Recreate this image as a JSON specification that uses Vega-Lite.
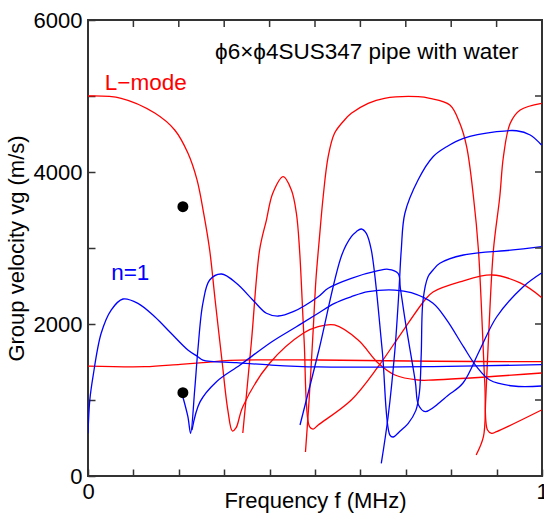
{
  "$schema": "https://vega.github.io/schema/vega-lite/v6.json",
  "width": 454,
  "height": 456,
  "autosize": {"type": "none"},
  "padding": {"left": 88, "top": 20, "right": 2, "bottom": 39},
  "background": "white",
  "config": {"view": {"stroke": "#333", "strokeWidth": 2}, "font": "Liberation Sans"},
  "datasets": {
    "curves": [
      {"s": "R1", "m": "L", "i": 1, "f": 0.0, "v": 5000},
      {"s": "R1", "m": "L", "i": 2, "f": 0.073, "v": 4970},
      {"s": "R1", "m": "L", "i": 3, "f": 0.147, "v": 4776},
      {"s": "R1", "m": "L", "i": 4, "f": 0.191, "v": 4553},
      {"s": "R1", "m": "L", "i": 5, "f": 0.22, "v": 4250},
      {"s": "R1", "m": "L", "i": 6, "f": 0.24, "v": 3900},
      {"s": "R1", "m": "L", "i": 7, "f": 0.255, "v": 3450},
      {"s": "R1", "m": "L", "i": 8, "f": 0.268, "v": 2974},
      {"s": "R1", "m": "L", "i": 9, "f": 0.28, "v": 2316},
      {"s": "R1", "m": "L", "i": 10, "f": 0.295, "v": 1526},
      {"s": "R1", "m": "L", "i": 11, "f": 0.308, "v": 868},
      {"s": "R1", "m": "L", "i": 12, "f": 0.318, "v": 592},
      {"s": "R1", "m": "L", "i": 13, "f": 0.326, "v": 632},
      {"s": "R1", "m": "L", "i": 14, "f": 0.341, "v": 912},
      {"s": "R1", "m": "L", "i": 15, "f": 0.4, "v": 1483},
      {"s": "R1", "m": "L", "i": 16, "f": 0.474, "v": 1878},
      {"s": "R1", "m": "L", "i": 17, "f": 0.507, "v": 1965},
      {"s": "R1", "m": "L", "i": 18, "f": 0.543, "v": 1987},
      {"s": "R1", "m": "L", "i": 19, "f": 0.595, "v": 1789},
      {"s": "R1", "m": "L", "i": 20, "f": 0.639, "v": 1487},
      {"s": "R1", "m": "L", "i": 21, "f": 0.676, "v": 1329},
      {"s": "R1", "m": "L", "i": 22, "f": 0.727, "v": 1263},
      {"s": "R1", "m": "L", "i": 23, "f": 0.76, "v": 1263},
      {"s": "R1", "m": "L", "i": 24, "f": 0.999, "v": 1355},

      {"s": "R2", "m": "L", "i": 1, "f": 0.341, "v": 566},
      {"s": "R2", "m": "L", "i": 2, "f": 0.36, "v": 1770},
      {"s": "R2", "m": "L", "i": 3, "f": 0.378, "v": 2974},
      {"s": "R2", "m": "L", "i": 4, "f": 0.393, "v": 3368},
      {"s": "R2", "m": "L", "i": 5, "f": 0.407, "v": 3720},
      {"s": "R2", "m": "L", "i": 6, "f": 0.43, "v": 3938},
      {"s": "R2", "m": "L", "i": 7, "f": 0.448, "v": 3763},
      {"s": "R2", "m": "L", "i": 8, "f": 0.459, "v": 3457},
      {"s": "R2", "m": "L", "i": 9, "f": 0.466, "v": 2974},
      {"s": "R2", "m": "L", "i": 10, "f": 0.476, "v": 1789},
      {"s": "R2", "m": "L", "i": 11, "f": 0.488, "v": 649},
      {"s": "R2", "m": "L", "i": 12, "f": 0.496, "v": 618},
      {"s": "R2", "m": "L", "i": 13, "f": 0.507, "v": 671},
      {"s": "R2", "m": "L", "i": 14, "f": 0.58, "v": 1000},
      {"s": "R2", "m": "L", "i": 15, "f": 0.639, "v": 1438},
      {"s": "R2", "m": "L", "i": 16, "f": 0.69, "v": 1877},
      {"s": "R2", "m": "L", "i": 17, "f": 0.742, "v": 2316},
      {"s": "R2", "m": "L", "i": 18, "f": 0.76, "v": 2421},
      {"s": "R2", "m": "L", "i": 19, "f": 0.819, "v": 2553},
      {"s": "R2", "m": "L", "i": 20, "f": 0.89, "v": 2645},
      {"s": "R2", "m": "L", "i": 21, "f": 0.952, "v": 2540},
      {"s": "R2", "m": "L", "i": 22, "f": 0.999, "v": 2350},

      {"s": "R3", "m": "L", "i": 1, "f": 0.479, "v": 316},
      {"s": "R3", "m": "L", "i": 2, "f": 0.487, "v": 1000},
      {"s": "R3", "m": "L", "i": 3, "f": 0.496, "v": 1921},
      {"s": "R3", "m": "L", "i": 4, "f": 0.502, "v": 2579},
      {"s": "R3", "m": "L", "i": 5, "f": 0.51, "v": 3150},
      {"s": "R3", "m": "L", "i": 6, "f": 0.518, "v": 3675},
      {"s": "R3", "m": "L", "i": 7, "f": 0.529, "v": 4201},
      {"s": "R3", "m": "L", "i": 8, "f": 0.543, "v": 4509},
      {"s": "R3", "m": "L", "i": 9, "f": 0.565, "v": 4684},
      {"s": "R3", "m": "L", "i": 10, "f": 0.58, "v": 4772},
      {"s": "R3", "m": "L", "i": 11, "f": 0.617, "v": 4904},
      {"s": "R3", "m": "L", "i": 12, "f": 0.653, "v": 4970},
      {"s": "R3", "m": "L", "i": 13, "f": 0.727, "v": 4991},
      {"s": "R3", "m": "L", "i": 14, "f": 0.753, "v": 4970},
      {"s": "R3", "m": "L", "i": 15, "f": 0.797, "v": 4882},
      {"s": "R3", "m": "L", "i": 16, "f": 0.819, "v": 4641},
      {"s": "R3", "m": "L", "i": 17, "f": 0.834, "v": 4333},
      {"s": "R3", "m": "L", "i": 18, "f": 0.849, "v": 3675},
      {"s": "R3", "m": "L", "i": 19, "f": 0.86, "v": 2974},
      {"s": "R3", "m": "L", "i": 20, "f": 0.874, "v": 1220},
      {"s": "R3", "m": "L", "i": 21, "f": 0.88, "v": 605},
      {"s": "R3", "m": "L", "i": 22, "f": 0.889, "v": 562},
      {"s": "R3", "m": "L", "i": 23, "f": 0.9, "v": 583},
      {"s": "R3", "m": "L", "i": 24, "f": 0.999, "v": 868},

      {"s": "R4", "m": "L", "i": 1, "f": 0.855, "v": 276},
      {"s": "R4", "m": "L", "i": 2, "f": 0.871, "v": 517},
      {"s": "R4", "m": "L", "i": 3, "f": 0.876, "v": 1000},
      {"s": "R4", "m": "L", "i": 4, "f": 0.883, "v": 1921},
      {"s": "R4", "m": "L", "i": 5, "f": 0.893, "v": 2974},
      {"s": "R4", "m": "L", "i": 6, "f": 0.907, "v": 3675},
      {"s": "R4", "m": "L", "i": 7, "f": 0.915, "v": 4201},
      {"s": "R4", "m": "L", "i": 8, "f": 0.93, "v": 4641},
      {"s": "R4", "m": "L", "i": 9, "f": 0.952, "v": 4816},
      {"s": "R4", "m": "L", "i": 10, "f": 0.999, "v": 4904},

      {"s": "R5", "m": "L", "i": 1, "f": 0.0, "v": 1447},
      {"s": "R5", "m": "L", "i": 2, "f": 0.125, "v": 1438},
      {"s": "R5", "m": "L", "i": 3, "f": 0.203, "v": 1470},
      {"s": "R5", "m": "L", "i": 4, "f": 0.253, "v": 1491},
      {"s": "R5", "m": "L", "i": 5, "f": 0.313, "v": 1522},
      {"s": "R5", "m": "L", "i": 6, "f": 0.507, "v": 1526},
      {"s": "R5", "m": "L", "i": 7, "f": 0.76, "v": 1510},
      {"s": "R5", "m": "L", "i": 8, "f": 0.999, "v": 1504},

      {"s": "B1", "m": "F", "i": 1, "f": 0.0, "v": 562},
      {"s": "B1", "m": "F", "i": 2, "f": 0.004, "v": 1000},
      {"s": "B1", "m": "F", "i": 3, "f": 0.011, "v": 1307},
      {"s": "B1", "m": "F", "i": 4, "f": 0.029, "v": 1878},
      {"s": "B1", "m": "F", "i": 5, "f": 0.051, "v": 2184},
      {"s": "B1", "m": "F", "i": 6, "f": 0.077, "v": 2329},
      {"s": "B1", "m": "F", "i": 7, "f": 0.11, "v": 2272},
      {"s": "B1", "m": "F", "i": 8, "f": 0.147, "v": 2096},
      {"s": "B1", "m": "F", "i": 9, "f": 0.183, "v": 1878},
      {"s": "B1", "m": "F", "i": 10, "f": 0.22, "v": 1658},
      {"s": "B1", "m": "F", "i": 11, "f": 0.242, "v": 1570},
      {"s": "B1", "m": "F", "i": 12, "f": 0.253, "v": 1526},
      {"s": "B1", "m": "F", "i": 13, "f": 0.327, "v": 1491},
      {"s": "B1", "m": "F", "i": 14, "f": 0.4, "v": 1461},
      {"s": "B1", "m": "F", "i": 15, "f": 0.507, "v": 1435},
      {"s": "B1", "m": "F", "i": 16, "f": 0.76, "v": 1440},
      {"s": "B1", "m": "F", "i": 17, "f": 0.999, "v": 1465},

      {"s": "B2", "m": "F", "i": 1, "f": 0.209, "v": 1039},
      {"s": "B2", "m": "F", "i": 2, "f": 0.22, "v": 780},
      {"s": "B2", "m": "F", "i": 3, "f": 0.226, "v": 562},
      {"s": "B2", "m": "F", "i": 4, "f": 0.235, "v": 1132},
      {"s": "B2", "m": "F", "i": 5, "f": 0.242, "v": 1658},
      {"s": "B2", "m": "F", "i": 6, "f": 0.253, "v": 2272},
      {"s": "B2", "m": "F", "i": 7, "f": 0.268, "v": 2579},
      {"s": "B2", "m": "F", "i": 8, "f": 0.294, "v": 2658},
      {"s": "B2", "m": "F", "i": 9, "f": 0.327, "v": 2536},
      {"s": "B2", "m": "F", "i": 10, "f": 0.363, "v": 2316},
      {"s": "B2", "m": "F", "i": 11, "f": 0.393, "v": 2141},
      {"s": "B2", "m": "F", "i": 12, "f": 0.419, "v": 2105},
      {"s": "B2", "m": "F", "i": 13, "f": 0.452, "v": 2162},
      {"s": "B2", "m": "F", "i": 14, "f": 0.507, "v": 2359},
      {"s": "B2", "m": "F", "i": 15, "f": 0.529, "v": 2470},
      {"s": "B2", "m": "F", "i": 16, "f": 0.58, "v": 2601},
      {"s": "B2", "m": "F", "i": 17, "f": 0.639, "v": 2701},
      {"s": "B2", "m": "F", "i": 18, "f": 0.661, "v": 2720},
      {"s": "B2", "m": "F", "i": 19, "f": 0.683, "v": 2667},
      {"s": "B2", "m": "F", "i": 20, "f": 0.688, "v": 2474},
      {"s": "B2", "m": "F", "i": 21, "f": 0.699, "v": 2030},
      {"s": "B2", "m": "F", "i": 22, "f": 0.721, "v": 1241},
      {"s": "B2", "m": "F", "i": 23, "f": 0.728, "v": 934},
      {"s": "B2", "m": "F", "i": 24, "f": 0.743, "v": 846},
      {"s": "B2", "m": "F", "i": 25, "f": 0.794, "v": 1066},
      {"s": "B2", "m": "F", "i": 26, "f": 0.826, "v": 1224},
      {"s": "B2", "m": "F", "i": 27, "f": 0.863, "v": 1658},
      {"s": "B2", "m": "F", "i": 28, "f": 0.9, "v": 2092},
      {"s": "B2", "m": "F", "i": 29, "f": 0.958, "v": 2487},
      {"s": "B2", "m": "F", "i": 30, "f": 0.999, "v": 2670},

      {"s": "B3", "m": "F", "i": 1, "f": 0.229, "v": 605},
      {"s": "B3", "m": "F", "i": 2, "f": 0.247, "v": 978},
      {"s": "B3", "m": "F", "i": 3, "f": 0.283, "v": 1241},
      {"s": "B3", "m": "F", "i": 4, "f": 0.335, "v": 1461},
      {"s": "B3", "m": "F", "i": 5, "f": 0.405, "v": 1767},
      {"s": "B3", "m": "F", "i": 6, "f": 0.459, "v": 1964},
      {"s": "B3", "m": "F", "i": 7, "f": 0.507, "v": 2141},
      {"s": "B3", "m": "F", "i": 8, "f": 0.543, "v": 2272},
      {"s": "B3", "m": "F", "i": 9, "f": 0.58, "v": 2359},
      {"s": "B3", "m": "F", "i": 10, "f": 0.617, "v": 2425},
      {"s": "B3", "m": "F", "i": 11, "f": 0.676, "v": 2447},
      {"s": "B3", "m": "F", "i": 12, "f": 0.712, "v": 2412},
      {"s": "B3", "m": "F", "i": 13, "f": 0.76, "v": 2272},
      {"s": "B3", "m": "F", "i": 14, "f": 0.79, "v": 2053},
      {"s": "B3", "m": "F", "i": 15, "f": 0.827, "v": 1701},
      {"s": "B3", "m": "F", "i": 16, "f": 0.856, "v": 1438},
      {"s": "B3", "m": "F", "i": 17, "f": 0.885, "v": 1263},
      {"s": "B3", "m": "F", "i": 18, "f": 0.937, "v": 1184},
      {"s": "B3", "m": "F", "i": 19, "f": 0.999, "v": 1184},

      {"s": "B4", "m": "F", "i": 1, "f": 0.467, "v": 671},
      {"s": "B4", "m": "F", "i": 2, "f": 0.507, "v": 1618},
      {"s": "B4", "m": "F", "i": 3, "f": 0.559, "v": 2908},
      {"s": "B4", "m": "F", "i": 4, "f": 0.58, "v": 3149},
      {"s": "B4", "m": "F", "i": 5, "f": 0.591, "v": 3215},
      {"s": "B4", "m": "F", "i": 6, "f": 0.602, "v": 3250},
      {"s": "B4", "m": "F", "i": 7, "f": 0.613, "v": 3193},
      {"s": "B4", "m": "F", "i": 8, "f": 0.624, "v": 2974},
      {"s": "B4", "m": "F", "i": 9, "f": 0.648, "v": 1658},
      {"s": "B4", "m": "F", "i": 10, "f": 0.665, "v": 539},
      {"s": "B4", "m": "F", "i": 11, "f": 0.672, "v": 513},
      {"s": "B4", "m": "F", "i": 12, "f": 0.687, "v": 590},
      {"s": "B4", "m": "F", "i": 13, "f": 0.705, "v": 690},
      {"s": "B4", "m": "F", "i": 14, "f": 0.722, "v": 860},
      {"s": "B4", "m": "F", "i": 15, "f": 0.73, "v": 1100},
      {"s": "B4", "m": "F", "i": 16, "f": 0.734, "v": 1600},
      {"s": "B4", "m": "F", "i": 17, "f": 0.738, "v": 2316},
      {"s": "B4", "m": "F", "i": 18, "f": 0.749, "v": 2622},
      {"s": "B4", "m": "F", "i": 19, "f": 0.76, "v": 2711},
      {"s": "B4", "m": "F", "i": 20, "f": 0.775, "v": 2799},
      {"s": "B4", "m": "F", "i": 21, "f": 0.827, "v": 2908},
      {"s": "B4", "m": "F", "i": 22, "f": 0.936, "v": 2974},
      {"s": "B4", "m": "F", "i": 23, "f": 0.999, "v": 3017},

      {"s": "B5", "m": "F", "i": 1, "f": 0.646, "v": 167},
      {"s": "B5", "m": "F", "i": 2, "f": 0.661, "v": 780},
      {"s": "B5", "m": "F", "i": 3, "f": 0.676, "v": 1658},
      {"s": "B5", "m": "F", "i": 4, "f": 0.685, "v": 2447},
      {"s": "B5", "m": "F", "i": 5, "f": 0.69, "v": 2974},
      {"s": "B5", "m": "F", "i": 6, "f": 0.698, "v": 3457},
      {"s": "B5", "m": "F", "i": 7, "f": 0.727, "v": 3895},
      {"s": "B5", "m": "F", "i": 8, "f": 0.76, "v": 4201},
      {"s": "B5", "m": "F", "i": 9, "f": 0.79, "v": 4333},
      {"s": "B5", "m": "F", "i": 10, "f": 0.827, "v": 4443},
      {"s": "B5", "m": "F", "i": 11, "f": 0.9, "v": 4530},
      {"s": "B5", "m": "F", "i": 12, "f": 0.944, "v": 4543},
      {"s": "B5", "m": "F", "i": 13, "f": 0.974, "v": 4487},
      {"s": "B5", "m": "F", "i": 14, "f": 0.999, "v": 4355}
    ],
    "dots": [
      {"f": 0.209, "v": 3543},
      {"f": 0.209, "v": 1096}
    ],
    "notes": [
      {"t": "ϕ6×ϕ4SUS347 pipe with water", "m": "T", "f": 0.28, "v": 5583},
      {"t": "L−mode", "m": "L", "f": 0.037, "v": 5167},
      {"t": "n=1", "m": "F", "f": 0.051, "v": 2675}
    ],
    "xticks": [
      {"f": 0.1}, {"f": 0.2}, {"f": 0.3}, {"f": 0.4}, {"f": 0.5},
      {"f": 0.6}, {"f": 0.7}, {"f": 0.8}, {"f": 0.9}
    ],
    "yticks": [
      {"v": 1000}, {"v": 2000}, {"v": 3000}, {"v": 4000}, {"v": 5000}
    ]
  },
  "layer": [
    {
      "data": {"name": "curves"},
      "mark": {"type": "line", "strokeWidth": 1.3, "interpolate": "catmull-rom", "clip": true},
      "encoding": {
        "x": {
          "field": "f", "type": "quantitative",
          "scale": {"domain": [0, 1], "nice": false, "zero": false},
          "axis": {
            "orient": "bottom", "offset": -7, "domain": false,
            "values": [0, 0.1, 0.2, 0.3, 0.4, 0.5, 0.6, 0.7, 0.8, 0.9, 1],
            "labelExpr": "datum.value == 0 || datum.value == 1 ? format(datum.value, 'd') : ''",
            "tickSize": 7, "tickWidth": 1.5, "tickColor": "#333",
            "labelFontSize": 22, "labelColor": "black", "labelPadding": 5,
            "labelFont": "Liberation Sans", "labelFlush": false, "labelOverlap": false,
            "title": "Frequency f (MHz)", "titleFontSize": 22, "titleFontWeight": "normal",
            "titleFont": "Liberation Sans", "titleColor": "black", "titlePadding": -12,
            "grid": false
          }
        },
        "y": {
          "field": "v", "type": "quantitative",
          "scale": {"domain": [0, 6000], "nice": false},
          "axis": {
            "orient": "left", "offset": -7, "domain": false,
            "values": [0, 1000, 2000, 3000, 4000, 5000, 6000],
            "labelExpr": "datum.value % 2000 == 0 ? format(datum.value, 'd') : ''",
            "tickSize": 7, "tickWidth": 1.5, "tickColor": "#333",
            "labelFontSize": 22, "labelColor": "black", "labelPadding": 6,
            "labelFont": "Liberation Sans", "labelFlush": false, "labelOverlap": false,
            "title": "Group velocity vg (m/s)", "titleFontSize": 22, "titleFontWeight": "normal",
            "titleFont": "Liberation Sans", "titleColor": "black", "titlePadding": 5,
            "grid": false
          }
        },
        "color": {
          "field": "m", "type": "nominal",
          "scale": {"domain": ["L", "F", "T"], "range": ["#ff0000", "#0000ff", "#000000"]},
          "legend": null
        },
        "detail": {"field": "s", "type": "nominal"},
        "order": {"field": "i", "type": "quantitative"}
      }
    },
    {
      "data": {"name": "xticks"},
      "mark": {"type": "rule", "color": "#333", "strokeWidth": 1.5},
      "encoding": {
        "x": {"field": "f", "type": "quantitative", "axis": null},
        "y": {"datum": 6000, "type": "quantitative", "axis": null},
        "y2": {"datum": 5908}
      }
    },
    {
      "data": {"name": "yticks"},
      "mark": {"type": "rule", "color": "#333", "strokeWidth": 1.5},
      "encoding": {
        "y": {"field": "v", "type": "quantitative", "axis": null},
        "x": {"datum": 1, "type": "quantitative", "axis": null},
        "x2": {"datum": 0.9846}
      }
    },
    {
      "data": {"name": "dots"},
      "mark": {"type": "point", "filled": true, "size": 120, "color": "black", "opacity": 1},
      "encoding": {
        "x": {"field": "f", "type": "quantitative", "axis": null},
        "y": {"field": "v", "type": "quantitative", "axis": null}
      }
    },
    {
      "data": {"name": "notes"},
      "mark": {"type": "text", "fontSize": 22.5, "align": "left", "baseline": "middle", "font": "Liberation Sans"},
      "encoding": {
        "x": {"field": "f", "type": "quantitative", "axis": null},
        "y": {"field": "v", "type": "quantitative", "axis": null},
        "text": {"field": "t"},
        "color": {"field": "m", "type": "nominal", "legend": null}
      }
    }
  ],
  "resolve": {"axis": {"x": "independent", "y": "independent"}}
}
